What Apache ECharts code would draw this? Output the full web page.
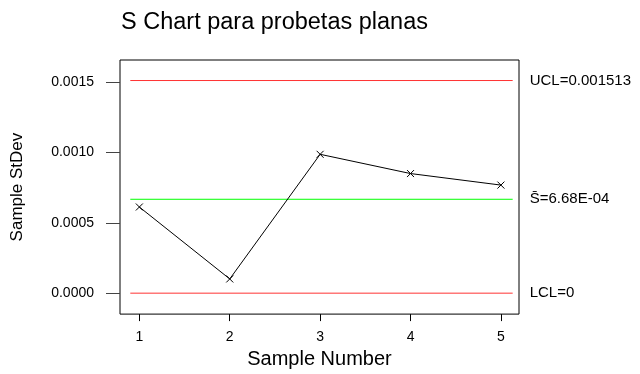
<!DOCTYPE html>
<html><head><meta charset="utf-8">
<script src="https://cdn.jsdelivr.net/npm/echarts@6/dist/echarts.min.js"></script>
<style>html,body{margin:0;padding:0;background:#fff}#c{width:640px;height:374px}</style>
</head><body><div id="c"></div>
<script>
var sampleNumbers = [1, 2, 3, 4, 5];
var sampleStDev = [0.000613, 0.000101, 0.000988, 0.000851, 0.000769];
var UCL = 0.001513;
var CL = 0.000668;
var LCL = 0;
var yTicks = [0, 0.0005, 0.0010, 0.0015];
var yTickLabels = ['0.0000', '0.0005', '0.0010', '0.0015'];
var limitLabels = ['UCL=0.001513', 'S\u0304=6.68E-04', 'LCL=0'];

var FONT = 'Liberation Sans';
var lineStart = 0.9, lineEnd = 5.13;
function hline(val, color, label) {
  return {
    type: 'line', data: [[lineStart, val], [lineEnd, val]], symbol: 'none', silent: true,
    lineStyle: { color: color, width: 1, opacity: 1 }, z: 1,
    emphasis: { disabled: true },
    endLabel: { show: true, formatter: label, color: '#000', fontFamily: FONT, fontSize: 15, distance: 17 }
  };
}
var chart = echarts.init(document.getElementById('c'));
chart.setOption({
  animation: false,
  title: { text: 'S Chart para probetas planas', left: 116, top: 6,
    textStyle: { fontFamily: FONT, fontSize: 23.5, fontWeight: 'normal', color: '#000' } },
  grid: { left: 120, right: 121, top: 60, bottom: 56, show: true, borderColor: '#000', borderWidth: 1, backgroundColor: 'transparent' },
  xAxis: {
    type: 'value', min: 0.786, max: 5.2,
    name: 'Sample Number', nameLocation: 'middle', nameGap: 34,
    nameTextStyle: { fontFamily: FONT, fontSize: 20, color: '#000' },
    axisLine: { show: false, onZero: false }, splitLine: { show: false },
    axisTick: { show: true, length: 7, customValues: sampleNumbers, lineStyle: { color: '#000' } },
    axisLabel: { customValues: sampleNumbers, margin: 16, fontFamily: FONT, fontSize: 14, color: '#000' }
  },
  yAxis: {
    type: 'value', min: -0.000149, max: 0.001659,
    name: 'Sample StDev', nameLocation: 'middle', nameGap: 94, nameRotate: 90,
    nameTextStyle: { fontFamily: FONT, fontSize: 17, color: '#000' },
    axisLine: { show: false, onZero: false }, splitLine: { show: false },
    axisTick: { show: true, length: 14, customValues: yTicks, lineStyle: { color: '#444' } },
    axisLabel: { customValues: yTicks, margin: 26, fontFamily: FONT, fontSize: 14, color: '#000',
      formatter: function (v) { var i = yTicks.indexOf(v); return i >= 0 ? yTickLabels[i] : ''; } }
  },
  series: [
    hline(UCL, '#ff3333', limitLabels[0]),
    hline(CL, '#00ff00', limitLabels[1]),
    hline(LCL, '#ff3333', limitLabels[2]),
    {
      type: 'line', data: sampleNumbers.map(function (n, i) { return [n, sampleStDev[i]]; }),
      lineStyle: { color: '#000', width: 1 }, z: 5,
      symbol: 'path://M0,0L10,10M10,0L0,10', symbolSize: 7, showAllSymbol: true,
      itemStyle: { color: 'none', borderColor: '#000', borderWidth: 1 }
    }
  ]
});
</script></body></html>
